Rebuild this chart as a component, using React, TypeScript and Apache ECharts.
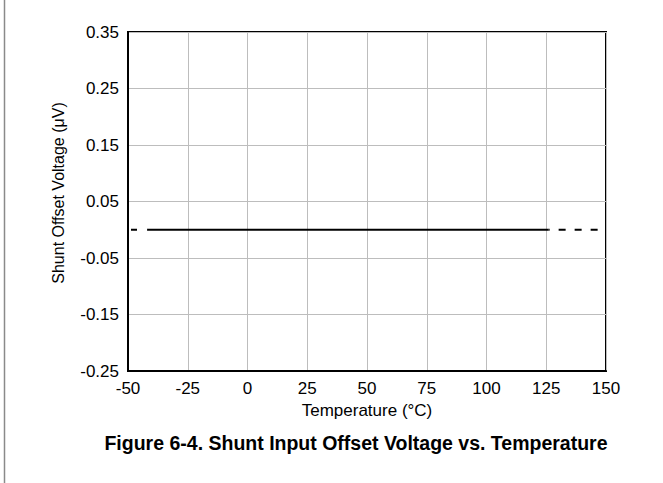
import React, { useEffect, useRef } from "react";
import * as echarts from "echarts";

const xTicks = [-50, -25, 0, 25, 50, 75, 100, 125, 150];
const yTicks = [-0.25, -0.15, -0.05, 0.05, 0.15, 0.25, 0.35];
const solidTemps = [-42, 126];
const solidValues = [0, 0];
const dashLeftTemps = [-50, -42];
const dashLeftValues = [0, 0];
const dashRightTemps = [126, 150];
const dashRightValues = [0, 0];

const FONT = "'Liberation Sans', Arial, sans-serif";

export default function App() {
  const ref = useRef<HTMLDivElement>(null);
  useEffect(() => {
    if (!ref.current) return;
    const chart = echarts.init(ref.current, null, { renderer: "svg" });
    const pair = (xs: number[], ys: number[]) => xs.map((x, i) => [x, ys[i]]);
    chart.setOption({
      animation: false,
      backgroundColor: "#ffffff",
      textStyle: { fontFamily: FONT },
      grid: {
        left: 128,
        top: 32,
        right: 57,
        bottom: 112,
        show: true,
        borderColor: "#000",
        borderWidth: 2,
      },
      xAxis: {
        type: "value",
        min: xTicks[0],
        max: xTicks[xTicks.length - 1],
        interval: 25,
        name: "Temperature (°C)",
        nameLocation: "middle",
        nameGap: 29,
        nameTextStyle: { fontSize: 17, color: "#000", fontFamily: FONT },
        axisLine: { show: true, onZero: false, lineStyle: { color: "#000", width: 2 } },
        axisTick: { show: false },
        axisLabel: { fontSize: 17, color: "#000", margin: 9, fontFamily: FONT },
        splitLine: { show: true, lineStyle: { color: "#bdbdbd", width: 1 } },
      },
      yAxis: {
        type: "value",
        min: yTicks[0],
        max: yTicks[yTicks.length - 1],
        interval: 0.1,
        name: "Shunt Offset Voltage (μV)",
        nameLocation: "middle",
        nameGap: 62,
        nameTextStyle: {
          fontSize: 16,
          color: "#000",
          fontFamily: FONT,
          padding: [0, 0, 0, 17],
        },
        axisLine: { show: true, onZero: false, lineStyle: { color: "#000", width: 2 } },
        axisTick: { show: false },
        axisLabel: {
          fontSize: 17,
          color: "#000",
          margin: 9,
          fontFamily: FONT,
          formatter: (v: number) => v.toFixed(2),
        },
        splitLine: { show: true, lineStyle: { color: "#bdbdbd", width: 1 } },
      },
      series: [
        {
          type: "line",
          data: pair(solidTemps, solidValues),
          showSymbol: false,
          symbol: "none",
          lineStyle: { color: "#000", width: 2 },
        },
        {
          type: "line",
          data: pair(dashLeftTemps, dashLeftValues),
          showSymbol: false,
          symbol: "none",
          lineStyle: { color: "#000", width: 2, type: [6, 10], dashOffset: 13 },
        },
        {
          type: "line",
          data: pair(dashRightTemps, dashRightValues),
          showSymbol: false,
          symbol: "none",
          lineStyle: { color: "#000", width: 2, type: [7, 9], dashOffset: 6 },
        },
      ],
      graphic: [
        {
          type: "line",
          shape: { x1: 4.5, y1: 0, x2: 4.5, y2: 483 },
          style: { stroke: "#8a8a8a", lineWidth: 1.5 },
        },
        {
          type: "text",
          x: 356,
          y: 443,
          style: {
            text: "Figure 6-4. Shunt Input Offset Voltage vs. Temperature",
            font: `bold 19.5px ${FONT}`,
            fill: "#000",
            align: "center",
            verticalAlign: "middle",
          },
        },
      ],
    });
    return () => chart.dispose();
  }, []);
  return (
    <div
      ref={ref}
      style={{ position: "fixed", left: 0, top: 0, width: 663, height: 483 }}
    />
  );
}
